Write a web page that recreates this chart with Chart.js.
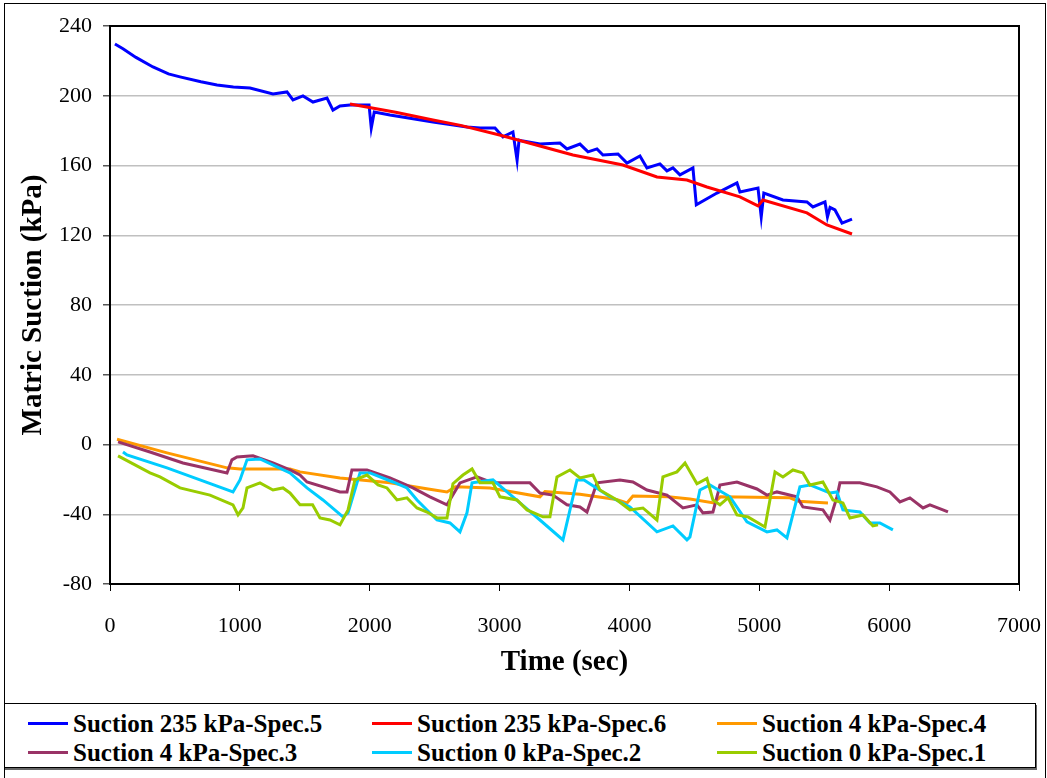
<!DOCTYPE html>
<html>
<head>
<meta charset="utf-8">
<title>Matric Suction vs Time</title>
<script src="https://cdn.jsdelivr.net/npm/chart.js"></script>
<style>
  body { margin: 0; background: #fff; font-family: 'Liberation Serif', 'Times New Roman', serif; }
  #frame { position: absolute; left: 4px; top: 3px; width: 1040px; height: 790px; border: 1px solid #000; }
  #chartWrap { position: absolute; left: 0; top: 0; width: 1047px; height: 700px; }
  #legend {
    position: absolute; left: 4px; top: 703px; width: 1032px; height: 65px;
    border: 1px solid #000; box-shadow: 1px 2px 0 #666; background: #fff;
    display: grid; grid-template-columns: 344px 345px 340px; grid-auto-rows: 29px;
    padding: 5px 0 0 23px; box-sizing: border-box;
  }
  .item { display: flex; align-items: center; font-weight: bold; font-size: 25px; white-space: nowrap; }
  .swatch { width: 40px; height: 3px; margin-right: 5px; }
</style>
</head>
<body>
<div id="frame"></div>
<div id="chartWrap"><canvas id="suctionChart" width="1047" height="700"></canvas></div>
<div id="legend"></div>
<script>
  // values: time (sec) and matric suction (kPa)
  const spec5Time = [38, 100, 200, 331, 450, 539, 700, 824, 950, 1078, 1255, 1363, 1409, 1486, 1563, 1671, 1717, 1771,
    1848, 1995, 2012, 2035, 2156, 2487, 2749, 2849, 2965, 3026, 3103, 3135, 3150, 3180, 3311, 3465, 3519, 3619, 3681,
    3750, 3796, 3912, 3981, 4081, 4135, 4235, 4289, 4335, 4389, 4489, 4515, 4674, 4828, 4851, 4990, 5015, 5035, 5182,
    5367, 5413, 5506, 5525, 5545, 5583, 5637, 5714];
  const spec5Suction = [229.7, 227, 222, 216.5, 212.5, 210.8, 208, 206.2, 205, 204.4, 201, 202.2, 197.6, 199.9, 196.4,
    198.7, 191.8, 194.1, 194.7, 194.7, 181.5, 190.7, 189, 185, 182.1, 181.5, 181.5, 176.4, 179.2, 163, 174.6, 174,
    172.3, 172.9, 169.5, 172.3, 167.8, 169.5, 166, 166.6, 161.4, 165.5, 158.6, 160.9, 156.9, 158.6, 154.6, 158.6,
    137.4, 144.2, 150, 144.8, 147.1, 130.5, 144.2, 140.2, 139.1, 136.2, 139.1, 130.5, 136, 134.5, 127, 129.3];

  const spec6Time = [1848, 2200, 2487, 2700, 3000, 3311, 3565, 3950, 4212, 4443, 4597, 4851, 4990, 5028, 5367, 5521, 5714];
  const spec6Suction = [195.3, 190.5, 186.1, 183, 177.5, 171.2, 166, 160.3, 153.4, 151.7, 147.7, 142, 136.8, 140.2, 132.8,
    125.9, 120.7];

  const spec4Time = [54, 439, 901, 1001, 1386, 1463, 1771, 2156, 2450, 2595, 2660, 2926, 3103, 3311, 3350, 3619, 3900,
    3981, 4027, 4300, 4466, 4650, 4700, 5236, 5300, 5529];
  const spec4Suction = [3, -4.8, -13.4, -14, -14, -15.7, -19.2, -22, -25.5, -27.2, -24.3, -24.9, -27.2, -30, -27, -28.5,
    -31.5, -33.5, -29.5, -30, -31.3, -33.5, -30, -30.6, -32.5, -33.5];

  const spec3Time = [62, 308, 562, 901, 939, 978, 1101, 1255, 1386, 1463, 1517, 1771, 1825, 1863, 1979, 2156, 2333, 2464,
    2595, 2695, 2826, 2949, 3234, 3311, 3411, 3519, 3619, 3673, 3750, 3927, 4027, 4135, 4289, 4412, 4520, 4566, 4643,
    4682, 4697, 4828, 4982, 5059, 5136, 5290, 5336, 5490, 5544, 5598, 5621, 5775, 5906, 6006, 6083, 6160, 6261, 6314,
    6414, 6453];
  const spec3Suction = [1.5, -4.3, -10.6, -16.3, -8.8, -7.1, -6.5, -10.6, -14.6, -17.5, -21.5, -27.2, -27.2, -14.6, -14.6,
    -19.2, -24.9, -30, -34.6, -22, -18.6, -22, -22, -27.8, -29, -34.6, -35.8, -38.7, -22, -20.3, -21.5, -26.1, -29, -36.4,
    -34.6, -39.2, -38.7, -27.8, -23.2, -21.5, -25.5, -29, -27.2, -30, -35.8, -37.5, -43.3, -30, -22, -22, -24.3, -27.2,
    -32.9, -30.6, -36.4, -34.6, -37.5, -38.7];

  const spec2Time = [100, 131, 439, 693, 947, 1001, 1055, 1155, 1286, 1386, 1517, 1640, 1794, 1833, 1925, 2002, 2179,
    2287, 2364, 2518, 2618, 2695, 2749, 2788, 2949, 3157, 3311, 3488, 3596, 3650, 3850, 4004, 4212, 4335, 4443, 4466,
    4543, 4620, 4774, 4905, 5059, 5136, 5213, 5313, 5390, 5544, 5598, 5644, 5775, 5852, 5929, 6029];
  const spec2Suction = [-4.3, -6, -13.4, -20.3, -27.2, -20.3, -8.8, -8.3, -12.8, -16.3, -24.9, -31.8, -41.5, -39.2, -16.3,
    -16.3, -21.5, -24.9, -31.8, -43.3, -45, -50.1, -39.2, -22, -20.3, -33.5, -43.3, -54.7, -20.3, -20.3, -30, -35.8,
    -50.1, -46.7, -54.7, -53, -26.1, -23.2, -30, -44.4, -50.1, -49, -53.6, -24.3, -23.2, -27.8, -27.2, -37.5, -38.7,
    -45, -45, -49];

  const spec1Time = [62, 308, 385, 539, 770, 947, 986, 1024, 1055, 1155, 1255, 1332, 1386, 1463, 1560, 1617, 1694, 1771,
    1833, 1886, 1979, 2064, 2133, 2210, 2287, 2364, 2441, 2518, 2595, 2641, 2718, 2788, 2849, 2949, 3003, 3134, 3211,
    3334, 3388, 3442, 3542, 3619, 3719, 3773, 3904, 4004, 4104, 4212, 4258, 4366, 4428, 4520, 4597, 4643, 4697, 4759,
    4828, 4913, 5044, 5082, 5121, 5182, 5259, 5336, 5390, 5490, 5567, 5644, 5698, 5798, 5875, 5914];
  const spec1Suction = [-6.5, -16.3, -18.6, -24.9, -29, -34.6, -40.4, -36.4, -24.9, -22, -26.1, -24.9, -27.8, -34.6,
    -34.6, -42.1, -43.3, -46.1, -37.5, -20.3, -17.5, -23.2, -24.9, -31.8, -30.6, -36.4, -38.7, -42.1, -42.1, -22.5,
    -17.5, -14, -22, -22, -30, -31.8, -37.5, -41.5, -41.5, -18.6, -14.6, -19.2, -17.5, -26.1, -31.8, -37.5, -36.4,
    -43.3, -18.6, -15.7, -10.6, -22.5, -19.5, -31.8, -34.6, -30.6, -40.4, -41.5, -47.3, -31.8, -15.7, -18.6, -14.6,
    -16.3, -23.2, -21.5, -31.8, -33.5, -42.1, -40.4, -46.7, -46.1];

  const seriesLabels = ['Suction 235 kPa-Spec.5', 'Suction 235 kPa-Spec.6', 'Suction 4 kPa-Spec.4',
    'Suction 4 kPa-Spec.3', 'Suction 0 kPa-Spec.2', 'Suction 0 kPa-Spec.1'];
  const seriesColors = ['#0000ff', '#ff0000', '#ff9900', '#993366', '#00ccff', '#99cc00'];
  const seriesTimes = [spec5Time, spec6Time, spec4Time, spec3Time, spec2Time, spec1Time];
  const seriesValues = [spec5Suction, spec6Suction, spec4Suction, spec3Suction, spec2Suction, spec1Suction];

  const serif = "'Liberation Serif', 'Times New Roman', serif";

  const datasets = seriesLabels.map((label, i) => ({
    label,
    data: seriesTimes[i].map((t, k) => ({ x: t, y: seriesValues[i][k] })),
    borderColor: seriesColors[i],
    backgroundColor: seriesColors[i],
    borderWidth: 3,
    pointRadius: 0,
    tension: 0,
    fill: false,
    order: seriesLabels.length - i, // later series drawn on top, like the original
  }));

  // black box around the plot area
  const plotBorder = {
    id: 'plotBorder',
    afterDraw(chart) {
      const { ctx, chartArea: a } = chart;
      ctx.save();
      ctx.strokeStyle = '#000';
      ctx.lineWidth = 2;
      ctx.strokeRect(a.left, a.top, a.right - a.left, a.bottom - a.top);
      ctx.restore();
    },
  };

  new Chart(document.getElementById('suctionChart'), {
    type: 'line',
    data: { datasets },
    plugins: [plotBorder],
    options: {
      responsive: false,
      animation: false,
      layout: { padding: { left: 0, right: 28, top: 26, bottom: 0 } },
      plugins: { legend: { display: false }, tooltip: { enabled: false } },
      scales: {
        x: {
          type: 'linear',
          min: 0,
          max: 7000,
          // fixed height, and no extra room for the end labels (layout padding covers them)
          afterFit: (s) => { s.height = 116; s.paddingLeft = 0; s.paddingRight = 0; },
          ticks: { stepSize: 1000, color: '#000', padding: 22, font: { family: serif, size: 22 }, callback: (v) => String(v) },
          grid: { drawOnChartArea: false, tickLength: 7, tickColor: '#000' },
          border: { color: '#000', width: 2 },
          title: { display: true, text: 'Time (sec)', color: '#000', padding: { bottom: 20 }, font: { family: serif, size: 29, weight: 'bold' } },
        },
        y: {
          min: -80,
          max: 240,
          afterFit: (s) => { s.width = 110; },
          ticks: { stepSize: 40, color: '#000', padding: 11, font: { family: serif, size: 22 } },
          grid: { color: '#c0c0c0', lineWidth: 1.5, tickLength: 7, tickColor: '#555' },
          border: { color: '#000', width: 2 },
          title: { display: true, text: 'Matric Suction (kPa)', color: '#000', padding: { top: 16 }, font: { family: serif, size: 29, weight: 'bold' } },
        },
      },
    },
  });

  // legend in three columns, same as the original
  const legend = document.getElementById('legend');
  seriesLabels.forEach((label, i) => {
    legend.innerHTML += `<div class="item"><span class="swatch" style="background:${seriesColors[i]}"></span>${label}</div>`;
  });
</script>
</body>
</html>
